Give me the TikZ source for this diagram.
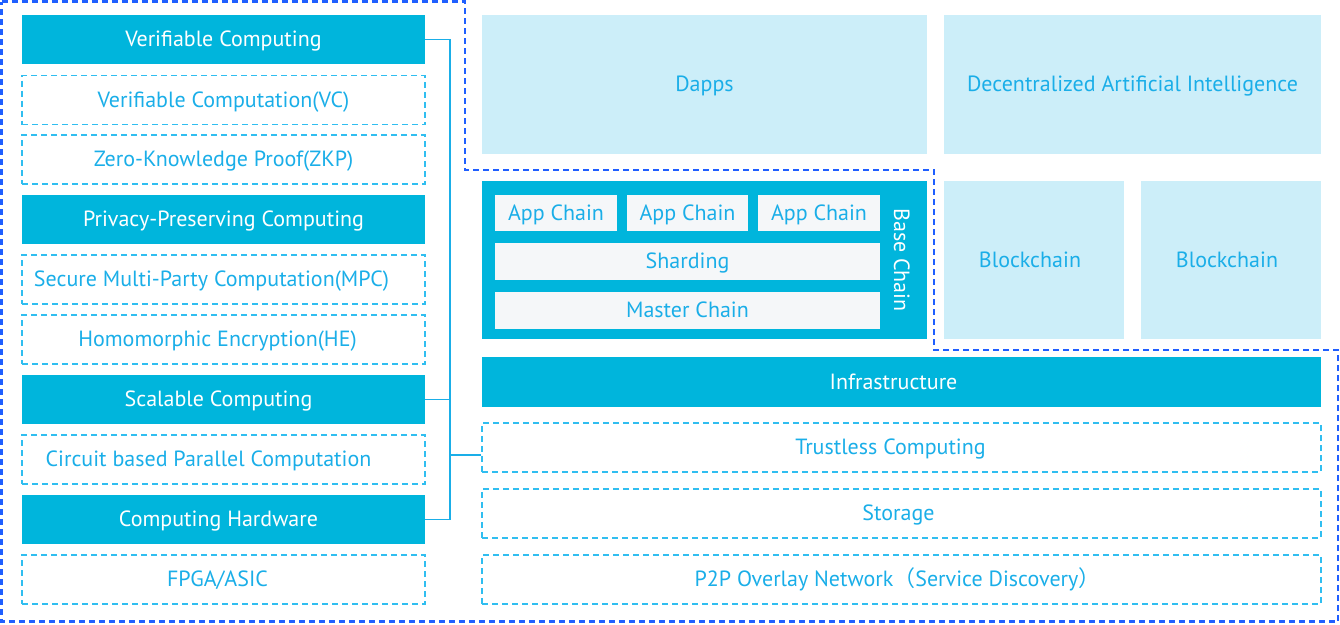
\documentclass[tikz,border=0pt]{standalone}
\usepackage{fontspec}
\setmainfont{PT Sans}
\newfontfamily\cjkfont{Noto Sans CJK SC}
\definecolor{fillc}{HTML}{00B5DC}
\definecolor{lightc}{HTML}{CCEEF9}
\definecolor{txtc}{HTML}{1AAEE8}
\definecolor{dashc}{HTML}{30BEF0}
\definecolor{outerc}{HTML}{1F5FFF}
\definecolor{paleg}{HTML}{F5F7F9}
\tikzset{
  base/.style={rectangle, inner sep=0pt, text height=15pt, text depth=1pt, font=\fontsize{22}{26}\selectfont},
  solidbox/.style={base, fill=fillc, text=white},
  dashbox/.style={base, draw=dashc, line width=1.4pt, dash pattern=on 6pt off 4pt, text=txtc},
  lightbox/.style={base, fill=lightc, text=txtc},
  chainbox/.style={base, fill=paleg, text=txtc},
  conn/.style={draw=txtc, line width=1.4pt},
  outer/.style={draw=outerc, line width=2.5pt, dash pattern=on 6pt off 4pt}
}
\begin{document}
\begin{tikzpicture}[x=1pt,y=-1pt]
\useasboundingbox (0,0) rectangle (1340,624);
% left column
\node[solidbox, minimum width=403pt, minimum height=49pt] (vc) at (223.5,39.5) {Verifiable Computing};
\node[dashbox, minimum width=403pt, minimum height=49pt] (vcc) at (223.5,100) {Verifiable Computation(VC)};
\node[dashbox, minimum width=403pt, minimum height=49pt] (zkp) at (223.5,159.5) {Zero-Knowledge Proof(ZKP)};
\node[solidbox, minimum width=403pt, minimum height=49pt] (pp) at (223.5,219.5) {Privacy-Preserving Computing};
\node[dashbox, minimum width=403pt, minimum height=49pt] (mpc) at (223.5,279.5) {\hspace*{-24pt}Secure Multi-Party Computation(MPC)};
\node[dashbox, minimum width=403pt, minimum height=49pt] (he) at (223.5,339.5) {\hspace*{-12pt}Homomorphic Encryption(HE)};
\node[solidbox, minimum width=403pt, minimum height=49pt] (sc) at (223.5,399.5) {\hspace*{-10pt}Scalable Computing};
\node[dashbox, minimum width=403pt, minimum height=49pt] (cpc) at (223.5,459.5) {\hspace*{-30pt}Circuit based Parallel Computation};
\node[solidbox, minimum width=403pt, minimum height=49pt] (hw) at (223.5,519.5) {\hspace*{-10pt}Computing Hardware};
\node[dashbox, minimum width=403pt, minimum height=49pt] (fpga) at (223.5,579.5) {\hspace*{-12pt}FPGA/ASIC};
% right top
\node[lightbox, minimum width=445pt, minimum height=139pt] (dapps) at (704.5,84.5) {Dapps};
\node[lightbox, minimum width=377pt, minimum height=139pt] (dai) at (1132.5,84.5) {Decentralized Artificial Intelligence};
% base chain
\node[solidbox, minimum width=445pt, minimum height=158pt] (basec) at (704.5,260) {};
\node[chainbox, minimum width=122pt, minimum height=36pt] (ac1) at (556,213) {App Chain};
\node[chainbox, minimum width=121pt, minimum height=36pt] (ac2) at (687.5,213) {App Chain};
\node[chainbox, minimum width=122pt, minimum height=36pt] (ac3) at (819,213) {App Chain};
\node[chainbox, minimum width=385pt, minimum height=37pt] (shard) at (687.5,261.5) {Sharding};
\node[chainbox, minimum width=385pt, minimum height=37pt] (master) at (687.5,310.5) {Master Chain};
\node[base, text=white, rotate=-90] (bclabel) at (901,260) {Base Chain};
% blockchains
\node[lightbox, minimum width=180pt, minimum height=158pt] (bc1) at (1034,260) {\hspace*{-8pt}Blockchain};
\node[lightbox, minimum width=180pt, minimum height=158pt] (bc2) at (1231,260) {\hspace*{-8pt}Blockchain};
% infrastructure
\node[solidbox, minimum width=839pt, minimum height=50pt] (infra) at (901.5,382) {\hspace*{-16pt}Infrastructure};
\node[dashbox, minimum width=839pt, minimum height=49pt] (tc) at (901.5,447.5) {\hspace*{-22pt}Trustless Computing};
\node[dashbox, minimum width=839pt, minimum height=49pt] (st) at (901.5,513.5) {\hspace*{-6pt}Storage};
\node[dashbox, minimum width=839pt, minimum height=49pt] (p2p) at (901.5,579.5) {\hspace*{-8pt}P2P Overlay Network{\cjkfont （}Service Discovery{\cjkfont ）}};
% connectors
\coordinate (bx) at (450,0);
\draw[conn] (vc.east) -- (vc.east -| bx) -- (hw.east -| bx) -- (hw.east);
\draw[conn] (sc.east) -- (sc.east -| bx);
\draw[conn] ([yshift=-7.5pt]tc.west) -- ([yshift=-7.5pt]tc.west -| bx);
% outer dashed outline
\draw[outer] (1.5,1.5) -- (465,1.5) -- (465,170) -- (934,170) -- (934,350) -- (1338,350) -- (1338,621.5) -- (1.5,621.5) -- cycle;
\end{tikzpicture}
\end{document}
